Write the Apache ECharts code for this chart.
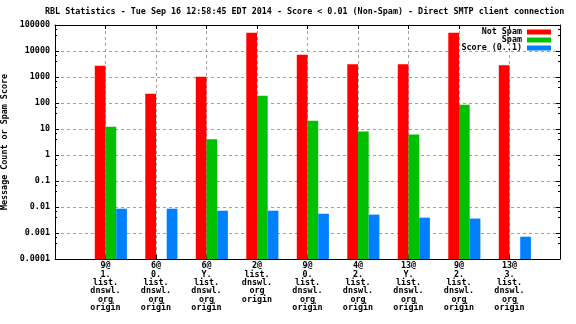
<!DOCTYPE html>
<html>
<head>
<meta charset="utf-8">
<script src="https://cdn.jsdelivr.net/npm/echarts@6/dist/echarts.min.js"></script>
<style>
html,body{margin:0;padding:0;background:#fff;}
#c{width:576px;height:324px;}
</style>
</head>
<body>
<div id="c"></div>
<script>
const titleText = 'RBL Statistics - Tue Sep 16 12:58:45 EDT 2014 - Score < 0.01 (Non-Spam) - Direct SMTP client connection';
const categories = [
  '9@\n1.\nlist.\ndnswl.\norg\norigin',
  '6@\n0.\nlist.\ndnswl.\norg\norigin',
  '6@\nY.\nlist.\ndnswl.\norg\norigin',
  '2@\nlist.\ndnswl.\norg\norigin',
  '9@\n0.\nlist.\ndnswl.\norg\norigin',
  '4@\n2.\nlist.\ndnswl.\norg\norigin',
  '13@\nY.\nlist.\ndnswl.\norg\norigin',
  '9@\n2.\nlist.\ndnswl.\norg\norigin',
  '13@\n3.\nlist.\ndnswl.\norg\norigin'
];
const notSpam = [2730, 229, 1030, 50700, 7220, 3070, 3070, 50700, 2810];
const spam = [12.3, null, 4.0, 191, 20.9, 7.96, 6.17, 86, null];
const score = [0.0086, 0.0086, 0.0072, 0.0072, 0.0055, 0.0051, 0.0039, 0.0036, 0.00072];
const yTickLabels = ['0.0001', '0.001', '0.01', '0.1', '1', '10', '100', '1000', '10000', '100000'];
const seriesNames = ['Not Spam', 'Spam', 'Score (0..1)'];

const FONT = 'DejaVu Sans Mono';
const FS = 8.4;
const FW = 'bold';
const toPairs = arr => arr.map((v, i) => [i, v == null ? '-' : v]);

const logAxisBase = {
  type: 'log', logBase: 10, min: 0.0001, max: 100000, interval: 1,
  startValue: 0.0001,
  axisLine: { show: true, onZero: false, lineStyle: { color: '#000', width: 1 } },
  axisTick: { show: true, inside: true, length: 4, lineStyle: { color: '#000' } },
  minorTick: { show: true, splitNumber: 3, length: 2, lineStyle: { color: '#000' } }
};
const xAxisBase = {
  type: 'value', min: -1, max: 9, interval: 1,
  axisLine: { show: true, onZero: false, lineStyle: { color: '#000', width: 1 } },
  axisTick: { show: true, inside: true, length: 4, lineStyle: { color: '#000' } }
};

const chart = echarts.init(document.getElementById('c'), null, { renderer: 'canvas' });
chart.setOption({
  animation: false,
  backgroundColor: '#fff',
  title: {
    text: titleText, left: 45, top: 7, padding: 0,
    textStyle: { fontFamily: FONT, fontSize: FS, fontWeight: FW, color: '#000', lineHeight: 10 }
  },
  legend: {
    data: seriesNames, orient: 'vertical', align: 'right', right: 25, top: 28,
    itemWidth: 24, itemHeight: 5, itemGap: 0, padding: 0, icon: 'rect',
    textStyle: { fontFamily: FONT, fontSize: FS, fontWeight: FW, color: '#000', lineHeight: 8 }
  },
  grid: { left: 55, right: 16, top: 25, bottom: 65, containLabel: false, outerBoundsMode: 'none' },
  xAxis: [
    Object.assign({}, xAxisBase, {
      position: 'bottom',
      splitLine: { show: true, lineStyle: { color: '#a0a0a0', type: [3, 3], width: 1 } },
      axisLabel: {
        show: true, margin: 3, interval: 0, showMinLabel: true, showMaxLabel: true,
        fontFamily: FONT, fontSize: FS, fontWeight: FW, color: '#000', lineHeight: 8.3, align: 'center',
        formatter: v => (Number.isInteger(v) && categories[v]) ? categories[v] : ''
      }
    }),
    Object.assign({}, xAxisBase, {
      position: 'top', splitLine: { show: false }, axisLabel: { show: false }
    })
  ],
  yAxis: [
    Object.assign({}, logAxisBase, {
      position: 'left',
      name: 'Message Count or Spam Score', nameLocation: 'middle', nameRotate: 90, nameGap: 42,
      nameTextStyle: { fontFamily: FONT, fontSize: FS, fontWeight: FW, color: '#000' },
      splitLine: { show: true, lineStyle: { color: '#a0a0a0', type: [3, 3], width: 1 } },
      axisLabel: {
        show: true, margin: 5, fontFamily: FONT, fontSize: FS, fontWeight: FW, color: '#000',
        showMinLabel: true, showMaxLabel: true,
        formatter: v => yTickLabels[Math.round(Math.log10(v)) + 4] || ''
      }
    }),
    Object.assign({}, logAxisBase, {
      position: 'right', splitLine: { show: false }, axisLabel: { show: false }
    })
  ],
  series: [
    { name: 'pad', type: 'bar', xAxisIndex: 0, yAxisIndex: 0, barWidth: 10.7, barGap: '0%', data: [] },
    { name: seriesNames[0], type: 'bar', xAxisIndex: 0, yAxisIndex: 0, barWidth: 10.7, barGap: '0%',
      itemStyle: { color: '#ff0000' }, data: toPairs(notSpam) },
    { name: seriesNames[1], type: 'bar', xAxisIndex: 0, yAxisIndex: 0, barWidth: 10.7, barGap: '0%',
      itemStyle: { color: '#00c000' }, data: toPairs(spam) },
    { name: seriesNames[2], type: 'bar', xAxisIndex: 0, yAxisIndex: 0, barWidth: 10.7, barGap: '0%',
      itemStyle: { color: '#0080ff' }, data: toPairs(score) }
  ]
});
</script>
</body>
</html>
